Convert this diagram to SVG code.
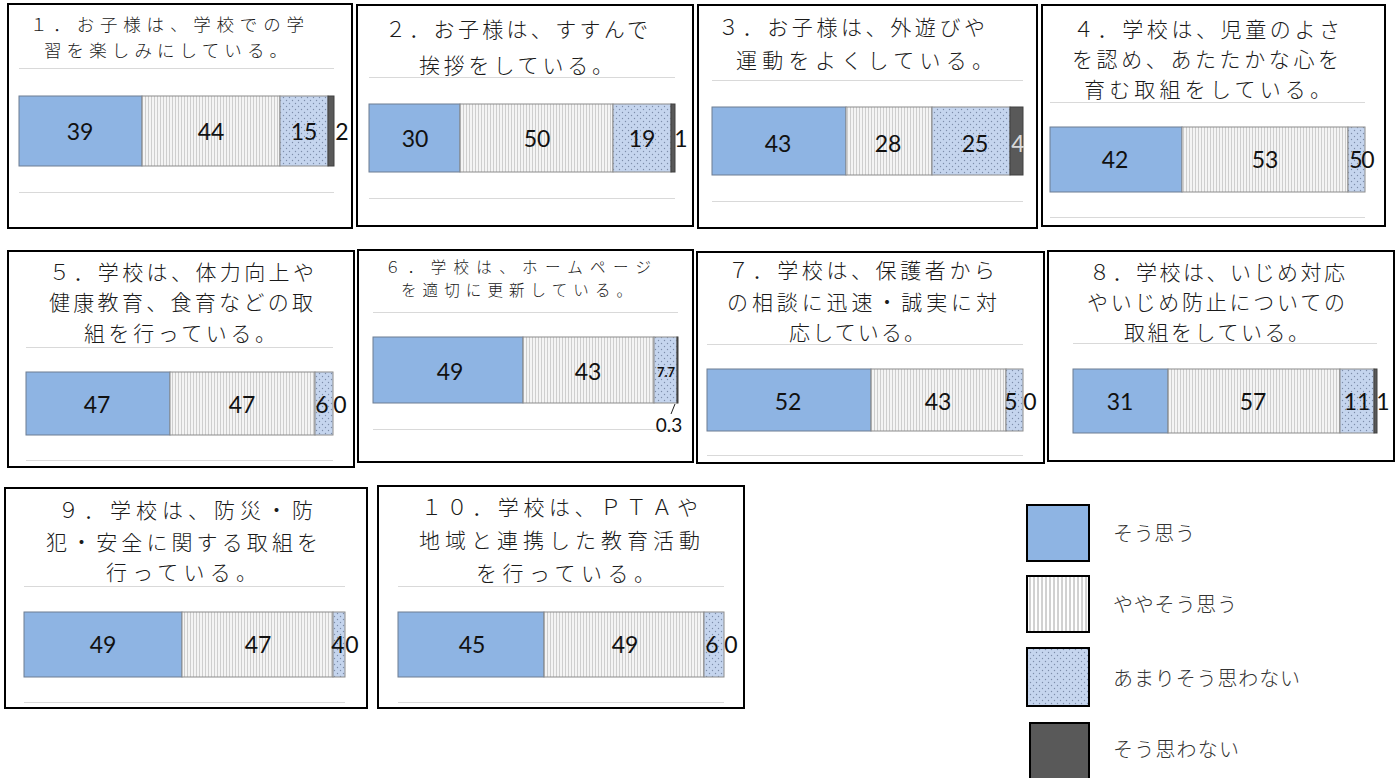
<svg xmlns="http://www.w3.org/2000/svg" width="1400" height="778" viewBox="0 0 1400 778">
<style>
.frame{fill:#fff;stroke:#000;stroke-width:2}
.grid{stroke:#d9d9d9;stroke-width:1}
.s1{fill:#8eb4e3;stroke:#6d7d92;stroke-width:1}
.s2{fill:url(#stripes);stroke:#8c8c8c;stroke-width:1}
.s3{fill:url(#dots);stroke:#8c8c8c;stroke-width:1}
.s4{fill:#595959;stroke:#404040;stroke-width:1}
.t{font-family:"Noto Sans CJK JP","Noto Sans CJK SC",sans-serif;font-size:21px;fill:#1a1a1a;font-weight:300}
.n{font-family:Lato,"Liberation Sans",sans-serif;font-size:23px;fill:#111;text-anchor:middle}
.lg{stroke:#000;stroke-width:2}
.lt{font-family:"Noto Sans CJK JP","Noto Sans CJK SC",sans-serif;font-size:20px;fill:#333;font-weight:300}
</style>
<defs>
<pattern id="stripes" patternUnits="userSpaceOnUse" width="3" height="10">
<rect width="3" height="10" fill="#f4f4f4"/>
<line x1="1.5" y1="0" x2="1.5" y2="10" stroke="#c4c4c4" stroke-width="0.8"/>
</pattern>
<pattern id="stripesL" patternUnits="userSpaceOnUse" width="4" height="10">
<rect width="4" height="10" fill="#fff"/>
<line x1="2" y1="0" x2="2" y2="10" stroke="#8c8c8c" stroke-width="0.8"/>
</pattern>
<pattern id="dots" patternUnits="userSpaceOnUse" width="6" height="6">
<rect width="6" height="6" fill="#c5d5ee"/>
<circle cx="1.5" cy="1.5" r="0.7" fill="#7d8daa"/>
<circle cx="4.5" cy="4.5" r="0.7" fill="#7d8daa"/>
</pattern>
</defs>
<rect width="1400" height="778" fill="#fff"/>

<g id="panel1">
<rect class="frame" x="8" y="4" width="344" height="224"/>
<line class="grid" x1="19" y1="68.5" x2="334" y2="68.5"/>
<line class="grid" x1="19" y1="192.5" x2="334" y2="192.5"/>
<rect class="s1" x="19" y="96" width="123" height="70"/>
<rect class="s2" x="142" y="96" width="138" height="70"/>
<rect class="s3" x="280" y="96" width="48" height="70"/>
<rect class="s4" x="328" y="96" width="6" height="70"/>
<text class="n" x="80" y="140">39</text>
<text class="n" x="211" y="140">44</text>
<text class="n" x="304" y="140">15</text>
<text class="n" x="342" y="140">2</text>
<text class="t" style="font-size:17.5px"><tspan x="30" y="31" textLength="274">１．お子様は、学校での学</tspan><tspan x="44" y="57" textLength="243">習を楽しみにしている。</tspan></text>
</g>

<g id="panel2">
<rect class="frame" x="357" y="5" width="336" height="221"/>
<line class="grid" x1="369" y1="77.5" x2="675" y2="77.5"/>
<line class="grid" x1="369" y1="198.5" x2="675" y2="198.5"/>
<rect class="s1" x="369" y="104" width="91" height="68"/>
<rect class="s2" x="460" y="104" width="153" height="68"/>
<rect class="s3" x="613" y="104" width="58" height="68"/>
<rect class="s4" x="671" y="104" width="4" height="68"/>
<text class="n" x="415" y="147">30</text>
<text class="n" x="537" y="147">50</text>
<text class="n" x="642" y="147">19</text>
<text class="n" x="681" y="147">1</text>
<text class="t"><tspan x="385" y="37" textLength="263">２．お子様は、すすんで</tspan><tspan x="419" y="73" textLength="194">挨拶をしている。</tspan></text>
</g>

<g id="panel3">
<rect class="frame" x="698" y="5" width="339" height="223"/>
<line class="grid" x1="712" y1="80.5" x2="1023" y2="80.5"/>
<line class="grid" x1="712" y1="201.5" x2="1023" y2="201.5"/>
<rect class="s1" x="712" y="107" width="134" height="68"/>
<rect class="s2" x="846" y="107" width="86" height="68"/>
<rect class="s3" x="932" y="107" width="78" height="68"/>
<rect class="s4" x="1010" y="107" width="13" height="68"/>
<text class="n" x="778" y="152">43</text>
<text class="n" x="888" y="152">28</text>
<text class="n" x="975" y="152">25</text>
<text class="n" x="1018" y="152" style="fill:#d9d9d9">4</text>
<text class="t"><tspan x="718" y="35" textLength="267">３．お子様は、外遊びや</tspan><tspan x="736" y="68" textLength="257">運動をよくしている。</tspan></text>
</g>

<g id="panel4">
<rect class="frame" x="1042" y="5" width="343" height="221"/>
<line class="grid" x1="1050" y1="102.5" x2="1365" y2="102.5"/>
<line class="grid" x1="1050" y1="217.5" x2="1365" y2="217.5"/>
<rect class="s1" x="1050" y="127" width="132" height="65"/>
<rect class="s2" x="1182" y="127" width="166" height="65"/>
<rect class="s3" x="1348" y="127" width="17" height="65"/>
<text class="n" x="1115" y="168">42</text>
<text class="n" x="1265" y="168">53</text>
<text class="n" x="1356" y="168">5</text>
<text class="n" x="1368" y="168">0</text>
<text class="t"><tspan x="1073" y="37" textLength="267">４．学校は、児童のよさ</tspan><tspan x="1072" y="67" textLength="267">を認め、あたたかな心を</tspan><tspan x="1084" y="97" textLength="247">育む取組をしている。</tspan></text>
</g>

<g id="panel5">
<rect class="frame" x="8" y="251" width="346" height="216"/>
<line class="grid" x1="26" y1="347.5" x2="333" y2="347.5"/>
<line class="grid" x1="26" y1="460.5" x2="333" y2="460.5"/>
<rect class="s1" x="26" y="372" width="144" height="63"/>
<rect class="s2" x="170" y="372" width="145" height="63"/>
<rect class="s3" x="315" y="372" width="18" height="63"/>
<text class="n" x="97" y="413">47</text>
<text class="n" x="242" y="413">47</text>
<text class="n" x="322" y="413">6</text>
<text class="n" x="340" y="413">0</text>
<text class="t"><tspan x="49" y="280" textLength="265">５．学校は、体力向上や</tspan><tspan x="49" y="310" textLength="264">健康教育、食育などの取</tspan><tspan x="84" y="341" textLength="192">組を行っている。</tspan></text>
</g>

<g id="panel6">
<rect class="frame" x="358" y="250" width="335" height="212"/>
<line class="grid" x1="373" y1="312.5" x2="678" y2="312.5"/>
<line class="grid" x1="373" y1="429.5" x2="678" y2="429.5"/>
<rect class="s1" x="373" y="337" width="150" height="66"/>
<rect class="s2" x="523" y="337" width="131" height="66"/>
<rect class="s3" x="654" y="337" width="23" height="66"/>
<rect class="s4" x="677" y="337" width="1" height="66"/>
<text class="n" x="450" y="380">49</text>
<text class="n" x="588" y="380">43</text>
<text class="n" x="666" y="377" style="font-size:13px;font-weight:bold">7.7</text>
<line x1="675" y1="404" x2="671" y2="414" stroke="#222" stroke-width="1"/>
<text class="n" x="669" y="432" style="font-size:19px">0.3</text>
<text class="t" style="font-size:15.5px"><tspan x="385" y="273" textLength="266">６．学校は、ホームページ</tspan><tspan x="401" y="296" textLength="231">を適切に更新している。</tspan></text>
</g>

<g id="panel7">
<rect class="frame" x="697" y="252" width="347" height="211"/>
<line class="grid" x1="707" y1="344.5" x2="1023" y2="344.5"/>
<line class="grid" x1="707" y1="455.5" x2="1023" y2="455.5"/>
<rect class="s1" x="707" y="369" width="164" height="62"/>
<rect class="s2" x="871" y="369" width="135" height="62"/>
<rect class="s3" x="1006" y="369" width="17" height="62"/>
<text class="n" x="788" y="410">52</text>
<text class="n" x="938" y="410">43</text>
<text class="n" x="1011" y="410">5</text>
<text class="n" x="1030" y="410">0</text>
<text class="t"><tspan x="728" y="278" textLength="267">７．学校は、保護者から</tspan><tspan x="727" y="310" textLength="270">の相談に迅速・誠実に対</tspan><tspan x="789" y="340" textLength="136">応している。</tspan></text>
</g>

<g id="panel8">
<rect class="frame" x="1048" y="251" width="346" height="210"/>
<line class="grid" x1="1073" y1="343.5" x2="1377" y2="343.5"/>
<rect class="s1" x="1073" y="369" width="95" height="64"/>
<rect class="s2" x="1168" y="369" width="172" height="64"/>
<rect class="s3" x="1340" y="369" width="34" height="64"/>
<rect class="s4" x="1374" y="369" width="3" height="64"/>
<text class="n" x="1120" y="410">31</text>
<text class="n" x="1253" y="410">57</text>
<text class="n" x="1357" y="410">11</text>
<text class="n" x="1383" y="410">1</text>
<text class="t"><tspan x="1089" y="280" textLength="256">８．学校は、いじめ対応</tspan><tspan x="1087" y="310" textLength="258">やいじめ防止についての</tspan><tspan x="1124" y="340" textLength="185">取組をしている。</tspan></text>
</g>

<g id="panel9">
<rect class="frame" x="5" y="488" width="362" height="220"/>
<line class="grid" x1="24" y1="586.5" x2="345" y2="586.5"/>
<line class="grid" x1="24" y1="702.5" x2="345" y2="702.5"/>
<rect class="s1" x="24" y="612" width="158" height="65"/>
<rect class="s2" x="182" y="612" width="151" height="65"/>
<rect class="s3" x="333" y="612" width="12" height="65"/>
<text class="n" x="103" y="653">49</text>
<text class="n" x="258" y="653">47</text>
<text class="n" x="338" y="653">4</text>
<text class="n" x="352" y="653">0</text>
<text class="t"><tspan x="58" y="518" textLength="255">９．学校は、防災・防</tspan><tspan x="46" y="550" textLength="272">犯・安全に関する取組を</tspan><tspan x="106" y="580" textLength="151">行っている。</tspan></text>
</g>

<g id="panel10">
<rect class="frame" x="378" y="486" width="366" height="222"/>
<line class="grid" x1="398" y1="586.5" x2="724" y2="586.5"/>
<line class="grid" x1="398" y1="702.5" x2="724" y2="702.5"/>
<rect class="s1" x="398" y="612" width="146" height="65"/>
<rect class="s2" x="544" y="612" width="160" height="65"/>
<rect class="s3" x="704" y="612" width="20" height="65"/>
<text class="n" x="472" y="653">45</text>
<text class="n" x="625" y="653">49</text>
<text class="n" x="712" y="653">6</text>
<text class="n" x="731" y="653">0</text>
<text class="t"><tspan x="421" y="515" textLength="277">１０．学校は、ＰＴＡや</tspan><tspan x="419" y="548" textLength="281">地域と連携した教育活動</tspan><tspan x="476" y="581" textLength="179">を行っている。</tspan></text>
</g>

<g id="legend">
<rect class="lg" x="1027" y="505" width="62" height="56" fill="#8eb4e3"/>
<rect class="lg" x="1027" y="576" width="62" height="56" fill="url(#stripesL)"/>
<rect class="lg" x="1027" y="648" width="62" height="58" fill="url(#dots)"/>
<rect class="lg" x="1030" y="723" width="59" height="70" fill="#595959"/>
<text class="lt" x="1113" y="541" textLength="82">そう思う</text>
<text class="lt" x="1113" y="612" textLength="124">ややそう思う</text>
<text class="lt" x="1113" y="686" textLength="187">あまりそう思わない</text>
<text class="lt" x="1113" y="757" textLength="126">そう思わない</text>
</g>

<g id="connectors"/>
</svg>
